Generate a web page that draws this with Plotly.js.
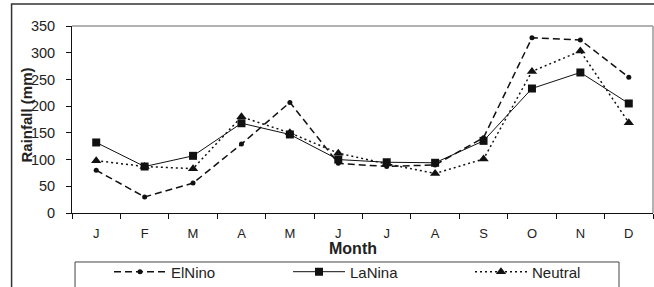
<!DOCTYPE html>
<html>
<head>
<meta charset="utf-8">
<script src="https://cdn.plot.ly/plotly-3.0.1.min.js"></script>
<style>html,body{margin:0;padding:0;background:#fff;}#chart{width:654px;height:287px;}</style>
</head>
<body>
<div id="chart"></div>
<script>
var months = ["J","F","M","A","M ","J ","J  ","A ","S","O","N","D"];
var monthLabels = ["J","F","M","A","M","J","J","A","S","O","N","D"];
var elNino  = [80, 30, 56, 129, 207, 93, 87, 90, 141, 328, 324, 254];
var laNina  = [132, 87, 107, 168, 147, 100, 95, 94, 135, 233, 263, 205];
var neutral = [98, 87, 83, 180, 150, 112, 92, 74, 101, 265, 303, 169];
var yTicks = [0, 50, 100, 150, 200, 250, 300, 350];

var font = "Liberation Sans, Arial, sans-serif";
var traces = [
  {x: months, y: elNino, name: "ElNino", type: "scatter", mode: "lines+markers", legend: "legend",
   line: {color: "#111", width: 1.5, dash: "7px,4px"},
   marker: {symbol: "circle", size: 5, color: "#111"}},
  {x: months, y: laNina, name: "LaNina", type: "scatter", mode: "lines+markers", legend: "legend2",
   line: {color: "#111", width: 1, dash: "solid"},
   marker: {symbol: "square", size: 8, color: "#111"}},
  {x: months, y: neutral, name: "Neutral", type: "scatter", mode: "lines+markers", legend: "legend3",
   line: {color: "#111", width: 1.5, dash: "2px,3px"},
   marker: {symbol: "triangle-up", size: 9, color: "#111"}}
];

function leg(x) {
  return {orientation: "h", x: x, xanchor: "left", y: -0.227, yanchor: "top",
          font: {family: font, size: 15, color: "#222"}, itemwidth: 52,
          bgcolor: "rgba(0,0,0,0)", borderwidth: 0};
}

var layout = {
  width: 654, height: 287,
  margin: {l: 72, r: 1, t: 26, b: 74, pad: 0, autoexpand: false},
  paper_bgcolor: "#fff", plot_bgcolor: "#fff",
  font: {family: font, size: 13, color: "#222"},
  showlegend: true,
  legend: leg(0.0637),
  legend2: leg(0.3718),
  legend3: leg(0.685),
  xaxis: {type: "category", tickvals: months, ticktext: monthLabels, automargin: false,
          showgrid: false, zeroline: false, showline: true, linecolor: "#111", linewidth: 1,
          ticks: "outside", tickson: "boundaries", ticklen: 5, tickcolor: "#111", ticklabelstandoff: 8,
          tickfont: {family: font, size: 13, color: "#222"}, range: [-0.5, 11.5], fixedrange: true},
  yaxis: {range: [0, 350], tickvals: yTicks, showgrid: false, zeroline: false, automargin: false,
          showline: true, linecolor: "#111", linewidth: 1, ticks: "outside", ticklen: 5, ticklabelstandoff: 8,
          tickcolor: "#111", tickfont: {family: font, size: 14.5, color: "#222"}, fixedrange: true},
  shapes: [
    {type: "line", xref: "paper", yref: "paper", x0: 0, x1: 1, y0: 1, y1: 1, line: {color: "#999", width: 1.5}},
    {type: "line", xref: "paper", yref: "paper", x0: 1, x1: 1, y0: 0, y1: 1, line: {color: "#999", width: 1.5}},
    {type: "rect", xref: "paper", yref: "paper", x0: -0.104, x1: 1.2, y0: -1, y1: 1.1176, line: {color: "#333", width: 1.5}},
    {type: "rect", xref: "paper", yref: "paper", x0: 0.0052, x1: 0.9415, y0: -1, y1: -0.262, line: {color: "#444", width: 1}}
  ],
  annotations: [
    {text: "<b>Rainfall (mm)</b>", xref: "paper", yref: "paper", x: -0.080, y: 0.524,
     xanchor: "center", yanchor: "middle",
     textangle: -90, showarrow: false, font: {family: font, size: 15, color: "#222"}},
    {text: "<b>Month</b>", xref: "paper", yref: "paper", x: 0.483, y: -0.1925,
     xanchor: "center", yanchor: "middle",
     showarrow: false, font: {family: font, size: 16, color: "#222"}}
  ]
};
Plotly.newPlot("chart", traces, layout, {displayModeBar: false, staticPlot: true});
</script>
</body>
</html>
